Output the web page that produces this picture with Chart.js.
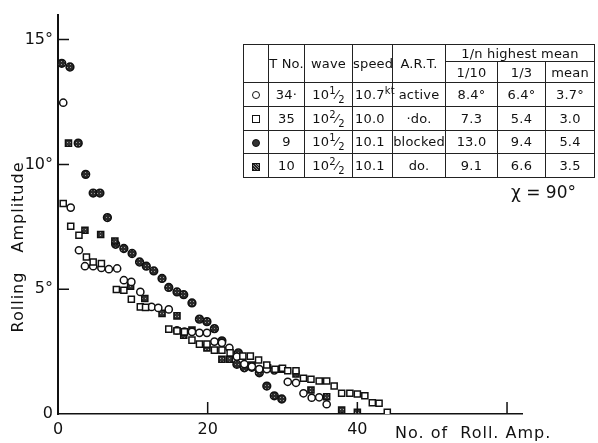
<!DOCTYPE html>
<html>
<head>
<meta charset="utf-8">
<script src="https://cdn.jsdelivr.net/npm/chart.js@4/dist/chart.umd.min.js"></script>
<style>
  html, body { margin: 0; padding: 0; background: #fff; }
  #wrap { position: relative; width: 598px; height: 443px; }
  #rollChart { position: absolute; left: 0; top: 0; }
  #tbl { position: absolute; left: 243px; top: 44px; width: 351px; border-collapse: collapse;
         font-family: "DejaVu Sans", sans-serif; font-size: 13px; letter-spacing: 0.2px; color: #111; table-layout: fixed; }
  #tbl td { border: 1.5px solid #222; padding: 0; text-align: center; white-space: nowrap; line-height: 1; overflow: visible; }
  #tbl sup, #tbl sub { font-size: 10px; line-height: 0; }
  .mk { display: inline-block; width: 6px; height: 6px; border: 1.5px solid #111; vertical-align: middle; }
  .mk.circle { border-radius: 50%; }
  .mk.dot { border-radius: 50%; background: #333; }
  .mk.hatch { background: repeating-linear-gradient(45deg, #222 0 1px, #888 1px 2px); }
  #chi { position: absolute; left: 511px; top: 182px; font: 17px "DejaVu Sans", sans-serif; color: #111; }
</style>
</head>
<body>
<div id="wrap">
  <canvas id="rollChart" width="598" height="443"></canvas>
  <table id="tbl"></table>
  <div id="chi">χ = 90°</div>
</div>
<script>
// 축 눈금
const xTicks = [0, 20, 40, 60];
const xTickLabels = ['0', '20', '40', ''];
const yTicks = [0, 5, 10, 15];
const yTickLabels = ['0', '5°', '10°', '15°'];

// T34 active (open circle)
const circleX = [0.7, 1.7, 2.8, 3.6, 4.7, 5.8, 6.8, 7.9, 8.8, 9.8, 11.0, 12.5, 13.4, 14.8, 15.9, 16.9,
                 17.9, 18.9, 19.9, 20.9, 21.9, 22.9, 23.9, 24.9, 25.9, 26.9, 27.9, 28.9, 30.7, 31.8,
                 32.8, 33.9, 34.9, 35.9];
const circleY = [12.47, 8.27, 6.56, 5.92, 5.92, 5.85, 5.8, 5.83, 5.36, 5.29, 4.89, 4.29, 4.25, 4.19, 3.35, 3.3,
                 3.29, 3.25, 3.25, 2.9, 2.85, 2.65, 2.3, 2.0, 1.9, 1.8, 1.8, 1.75, 1.29, 1.25,
                 0.83, 0.65, 0.67, 0.39];

// T35 do. (open square)
const squareX = [0.7, 1.7, 2.8, 3.8, 4.7, 5.8, 7.8, 8.8, 9.8, 11.0, 11.7, 14.8, 15.9, 16.9, 17.9, 18.9,
                 19.9, 20.9, 21.9, 23.0, 24.7, 25.7, 26.8, 27.9, 29.0, 30.0, 30.7, 31.8, 32.8, 33.8,
                 34.9, 35.9, 36.9, 37.9, 39.0, 40.0, 41.0, 42.0, 42.9, 44.0];
const squareY = [8.43, 7.52, 7.16, 6.29, 6.09, 6.03, 4.99, 4.96, 4.6, 4.29, 4.27, 3.4, 3.33, 3.29, 2.96, 2.8,
                 2.8, 2.56, 2.56, 2.45, 2.32, 2.32, 2.16, 1.96, 1.79, 1.83, 1.73, 1.73, 1.43, 1.39,
                 1.32, 1.32, 1.12, 0.83, 0.83, 0.8, 0.73, 0.45, 0.43, 0.07];

// T9 blocked (dotted circle)
const dotX = [0.5, 1.6, 2.7, 3.7, 4.7, 5.6, 6.6, 7.7, 8.8, 9.9, 10.9, 11.8, 12.8, 13.9, 14.8, 15.9,
              16.8, 17.9, 18.9, 19.9, 20.9, 21.9, 24.1, 23.9, 24.9, 25.9, 26.9, 27.9, 28.9, 29.9];
const dotY = [14.05, 13.9, 10.85, 9.6, 8.85, 8.85, 7.87, 6.8, 6.63, 6.43, 6.09, 5.92, 5.73, 5.43, 5.07, 4.89,
              4.78, 4.45, 3.8, 3.7, 3.42, 2.93, 2.45, 1.99, 1.85, 1.87, 1.65, 1.12, 0.73, 0.6];

// T10 do. (hatched square)
const hatchX = [1.4, 3.6, 5.7, 7.6, 9.7, 11.6, 13.9, 15.9, 16.8, 17.9, 19.9, 21.9, 22.9, 25.9, 28.0,
                29.9, 31.8, 33.8, 35.9, 37.9, 40.0];
const hatchY = [10.85, 7.36, 7.19, 6.93, 5.12, 4.63, 4.03, 3.93, 3.16, 3.36, 2.65, 2.19, 2.19, 1.96, 1.85,
                1.79, 1.6, 0.96, 0.69, 0.16, 0.07];

// 표 내용
const rowMarks = ['circle', 'square', 'dot', 'hatch'];
const tNo = ['34·', '35', '9', '10'];
const waveNum = ['1', '2', '1', '2'];
const waveDen = ['2', '2', '2', '2'];
const speed = ['10.7', '10.0', '10.1', '10.1'];
const art = ['active', '·do.', 'blocked', 'do.'];
const high10 = ['8.4°', '7.3', '13.0', '9.1'];
const high3 = ['6.4°', '5.4', '9.4', '6.6'];
const meanAmp = ['3.7°', '3.0', '5.4', '3.5'];

const colW = [25, 36, 48, 40, 53, 52, 48, 49];
let html = '<colgroup>' + colW.map(w => `<col style="width:${w}px">`).join('') + '</colgroup>';
html += '<tr style="height:17px"><td rowspan="2"></td><td rowspan="2">T No.</td><td rowspan="2">wave</td>' +
        '<td rowspan="2">speed</td><td rowspan="2">A.R.T.</td><td colspan="3">1/n highest mean</td></tr>';
html += '<tr style="height:21px"><td>1/10</td><td>1/3</td><td>mean</td></tr>';
for (let i = 0; i < tNo.length; i++) {
  html += `<tr style="height:23.75px"><td><span class="mk ${rowMarks[i]}"></span></td><td>${tNo[i]}</td>` +
          `<td>10<sup>${waveNum[i]}</sup>⁄<sub>${waveDen[i]}</sub></td>` +
          `<td style="text-align:left;padding-left:2px">${speed[i]}${i === 0 ? '<sup>kt</sup>' : ''}</td>` +
          `<td>${art[i]}</td><td>${high10[i]}</td><td>${high3[i]}</td><td>${meanAmp[i]}</td></tr>`;
}
document.getElementById('tbl').innerHTML = html;

// 점무늬 패턴
function speckle(dark, light) {
  const c = document.createElement('canvas');
  c.width = 3; c.height = 3;
  const g = c.getContext('2d');
  g.fillStyle = dark; g.fillRect(0, 0, 3, 3);
  g.fillStyle = light; g.fillRect(1, 1, 1, 1);
  return g.createPattern(c, 'repeat');
}

const toPts = (xs, ys) => xs.map((x, i) => ({ x: x, y: ys[i] }));

// 안쪽 눈금과 축 제목
const axisDecor = {
  id: 'axisDecor',
  afterDraw(chart) {
    const { ctx, chartArea: a } = chart;
    const x = chart.scales.x, y = chart.scales.y;
    ctx.save();
    ctx.strokeStyle = '#111';
    ctx.lineWidth = 1.5;
    ctx.beginPath();
    yTicks.forEach(v => {
      if (!v) return;
      const py = y.getPixelForValue(v);
      ctx.moveTo(a.left, py); ctx.lineTo(a.left + 11, py);
    });
    xTicks.forEach(v => {
      if (!v) return;
      const px = x.getPixelForValue(v);
      ctx.moveTo(px, a.bottom); ctx.lineTo(px, a.bottom - 12);
    });
    ctx.stroke();

    ctx.fillStyle = '#111';
    ctx.font = '16px "DejaVu Sans"';
    ctx.textBaseline = 'middle';
    ctx.textAlign = 'center';
    ctx.letterSpacing = '1px';
    ctx.save();
    ctx.translate(19, 0);
    ctx.rotate(-Math.PI / 2);
    ctx.fillText('Rolling', -302, 0);
    ctx.fillText('Amplitude', -207, 0);
    ctx.restore();
    ctx.textAlign = 'left';
    ctx.fillText('No. of  Roll. Amp.', 395, 434);
    ctx.restore();
  }
};

new Chart(document.getElementById('rollChart'), {
  type: 'scatter',
  data: {
    datasets: [
      { data: toPts(squareX, squareY), pointStyle: 'rect', pointRadius: 4.3, borderWidth: 1.5,
        borderColor: '#111', backgroundColor: '#fff' },
      { data: toPts(circleX, circleY), pointStyle: 'circle', pointRadius: 3.6, borderWidth: 1.5,
        borderColor: '#111', backgroundColor: '#fff' },
      { data: toPts(hatchX, hatchY), pointStyle: 'rect', pointRadius: 4.3, borderWidth: 1.5,
        borderColor: '#111', backgroundColor: speckle('#333', '#aaa') },
      { data: toPts(dotX, dotY), pointStyle: 'circle', pointRadius: 3.9, borderWidth: 1.5,
        borderColor: '#111', backgroundColor: speckle('#2a2a2a', '#999') }
    ]
  },
  options: {
    responsive: false,
    animation: false,
    layout: { padding: { top: 13, right: 76, left: 0, bottom: 0 } },
    plugins: { legend: { display: false }, tooltip: { enabled: false } },
    scales: {
      x: {
        type: 'linear', min: 0, max: 62,
        afterBuildTicks: s => { s.ticks = xTicks.map(v => ({ value: v })); },
        afterFit: s => { s.height = 29; },
        grid: { display: true, drawOnChartArea: false, drawTicks: false },
        border: { display: true, color: '#111', width: 1.5 },
        ticks: {
          autoSkip: false, maxRotation: 0, padding: 6, color: '#111',
          font: { family: 'DejaVu Sans', size: 16 },
          callback: v => xTickLabels[xTicks.indexOf(v)]
        }
      },
      y: {
        type: 'linear', min: 0, max: 16,
        afterBuildTicks: s => { s.ticks = yTicks.map(v => ({ value: v })); },
        afterFit: s => { s.width = 58; },
        grid: { display: true, drawOnChartArea: false, drawTicks: false },
        border: { display: true, color: '#111', width: 2 },
        ticks: {
          autoSkip: false, padding: 5, color: '#111',
          font: { family: 'DejaVu Sans', size: 16 },
          callback: v => yTickLabels[yTicks.indexOf(v)]
        }
      }
    }
  },
  plugins: [axisDecor]
});
</script>
</body>
</html>
